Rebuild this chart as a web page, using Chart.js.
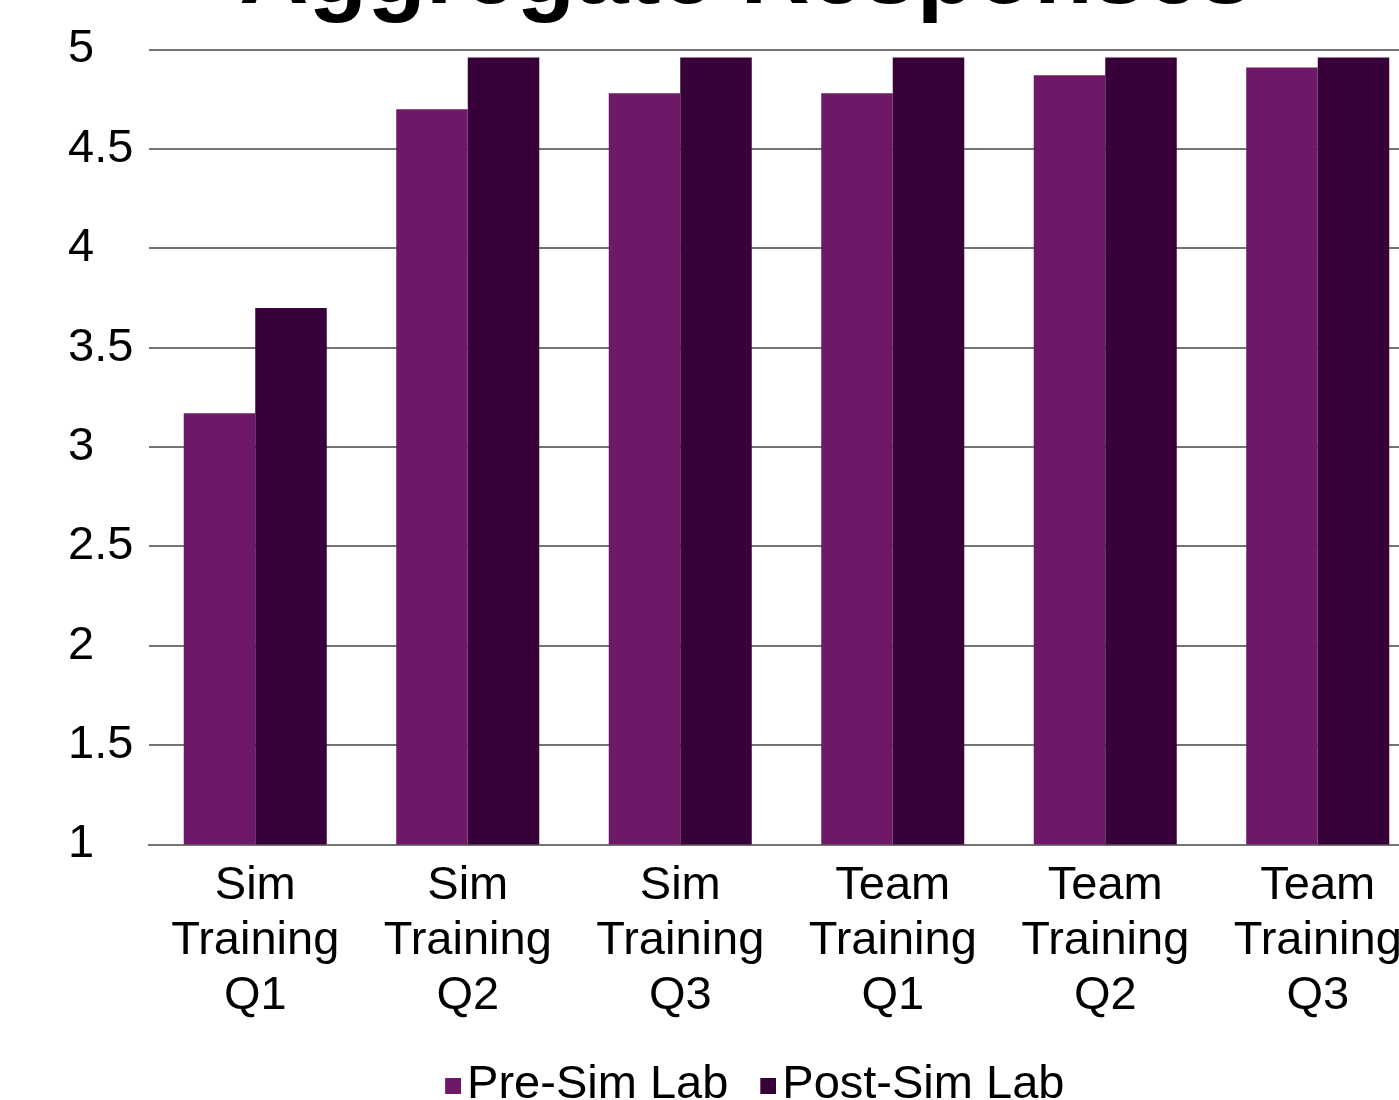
<!DOCTYPE html>
<html>
<head>
<meta charset="utf-8">
<script src="https://cdn.jsdelivr.net/npm/chart.js@4/dist/chart.umd.min.js"></script>
<style>
  html, body { margin: 0; padding: 0; background: #fff; overflow: hidden; }
  #wrap { position: absolute; left: 0; top: -71px; }
</style>
</head>
<body>
<div id="wrap"><canvas id="grafica" width="1480" height="1190"></canvas></div>
<script>
// datos
var categorias = [
  ['Sim', 'Training', 'Q1'],
  ['Sim', 'Training', 'Q2'],
  ['Sim', 'Training', 'Q3'],
  ['Team', 'Training', 'Q1'],
  ['Team', 'Training', 'Q2'],
  ['Team', 'Training', 'Q3']
];
var preSim = [3.17, 4.70, 4.78, 4.78, 4.87, 4.91];
var postSim = [3.70, 4.96, 4.96, 4.96, 4.96, 4.96];
var yTicks = [1, 1.5, 2, 2.5, 3, 3.5, 4, 4.5, 5];

var colorPre = '#6e1868';
var colorPost = '#380038';
var fuente = "'Liberation Sans', Arial, sans-serif";

// cuadrito de la leyenda (pegado al texto)
function cuadrito(color) {
  var c = document.createElement('canvas');
  c.width = 51;
  c.height = 16;
  var g = c.getContext('2d');
  g.fillStyle = color;
  g.fillRect(35, 0, 16, 16);
  return c;
}

Chart.defaults.font.family = fuente;
Chart.defaults.color = '#000';

var ctx = document.getElementById('grafica').getContext('2d');
var grafica = new Chart(ctx, {
  type: 'bar',
  data: {
    labels: categorias,
    datasets: [
      {
        label: 'Pre-Sim Lab',
        data: preSim,
        backgroundColor: colorPre,
        borderWidth: 0,
        categoryPercentage: 0.673,
        barPercentage: 1.0
      },
      {
        label: 'Post-Sim Lab',
        data: postSim,
        backgroundColor: colorPost,
        borderWidth: 0,
        categoryPercentage: 0.673,
        barPercentage: 1.0
      }
    ]
  },
  options: {
    responsive: false,
    animation: false,
    devicePixelRatio: 1,
    layout: { padding: { left: 68, right: 56, top: 0, bottom: 0 } },
    plugins: {
      title: {
        display: true,
        text: 'Aggregate Responses',
        color: '#000',
        font: { size: 96, weight: 'bold', lineHeight: 1 },
        padding: { top: 0, bottom: 24.5 }
      },
      legend: {
        display: true,
        position: 'bottom',
        labels: {
          color: '#000',
          font: { size: 47 },
          usePointStyle: true,
          pointStyleWidth: 16,
          padding: 14.5,
          generateLabels: function(chart) {
            var items = Chart.defaults.plugins.legend.labels.generateLabels(chart);
            items.forEach(function(it, i) {
              it.pointStyle = cuadrito(chart.data.datasets[i].backgroundColor);
            });
            return items;
          }
        }
      },
      tooltip: { enabled: false }
    },
    scales: {
      x: {
        grid: { display: false, drawTicks: false },
        border: { display: true, color: '#747474', width: 2 },
        ticks: {
          color: '#000',
          font: { size: 47, lineHeight: 1.17 },
          padding: 14,
          maxRotation: 0,
          autoSkip: false
        },
        afterFit: function(s) {
          s.height += 10;
          s.paddingLeft = 0;
          s.paddingRight = 0;
        }
      },
      y: {
        min: 1,
        max: 5,
        afterBuildTicks: function(s) {
          s.ticks = yTicks.map(function(v) { return { value: v }; });
        },
        afterFit: function(s) { s.width = 81; },
        grid: { color: '#747474', lineWidth: 2, drawTicks: false },
        border: { display: false },
        ticks: {
          color: '#000',
          font: { size: 47 },
          padding: 16,
          crossAlign: 'far',
          callback: function(v) { return String(v); }
        }
      }
    }
  }
});
</script>
</body>
</html>
